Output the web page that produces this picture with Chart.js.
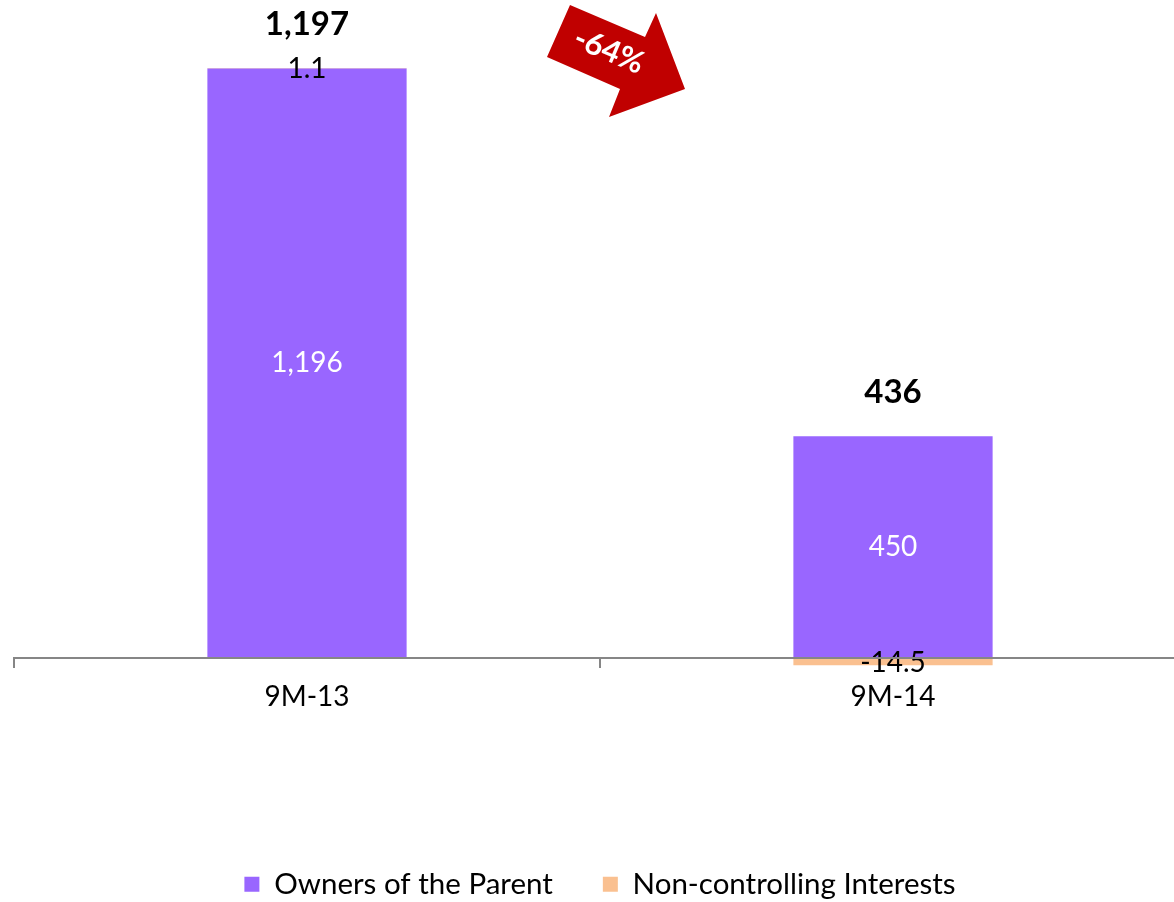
<!DOCTYPE html>
<html lang="en">
<head>
  <meta charset="UTF-8">
  <title>Net income 9M-13 vs 9M-14</title>
  <script src="https://cdn.jsdelivr.net/npm/chart.js"></script>
  <style>
    html, body { margin: 0; padding: 0; background: #fff; overflow: hidden; }
    .wrap { width: 1174px; height: 902px; overflow: hidden; position: relative; }
    .wrap canvas { position: absolute; left: 0; top: 0; }
  </style>
</head>
<body>
<div class="wrap"><canvas id="chart" width="1191" height="909"></canvas></div>

<script>
  const categories = ['9M-13', '9M-14'];
  const ownersOfParent = [1196, 450];
  const nonControlling = [1.1, -14.5];
  const changeLabel = '-64%';

  const FONT = 'Lato, "Open Sans", sans-serif';
  const totals = categories.map((c, i) => ownersOfParent[i] + nonControlling[i]);

  // labels, axis line, category names and the red arrow
  const overlay = {
    id: 'overlay',
    afterDatasetsDraw(chart) {
      const ctx = chart.ctx;
      const x = chart.scales.x, y = chart.scales.y;
      const zero = y.getPixelForValue(0);
      const owners = chart.getDatasetMeta(0).data;
      const nci = chart.getDatasetMeta(1).data;

      ctx.save();
      ctx.textAlign = 'center';
      ctx.textBaseline = 'middle';

      categories.forEach((cat, i) => {
        const a = owners[i], b = nci[i];
        ctx.font = '28px ' + FONT;
        ctx.fillStyle = '#fff';
        ctx.fillText(ownersOfParent[i].toLocaleString('en-US'), a.x, (a.y + a.base) / 2);
        ctx.fillStyle = '#000';
        ctx.fillText(nonControlling[i].toFixed(1), b.x, (b.y + b.base) / 2 + 1);

        const top = Math.min(a.y, a.base, b.y, b.base);
        ctx.font = 'bold 33px ' + FONT;
        ctx.fillText(Math.round(totals[i]).toLocaleString('en-US'), a.x, top - 44);

        ctx.font = '28px ' + FONT;
        ctx.fillText(cat, x.getPixelForValue(i), zero + 39);
      });

      // axis line with tick marks between categories
      ctx.strokeStyle = '#868686';
      ctx.lineWidth = 2;
      ctx.beginPath();
      ctx.moveTo(x.left, zero);
      ctx.lineTo(x.right, zero);
      for (let i = 0; i <= categories.length; i++) {
        const px = x.left + (x.right - x.left) * i / categories.length;
        ctx.moveTo(px, zero - 1);
        ctx.lineTo(px, zero + 10);
      }
      ctx.stroke();

      // arrow
      ctx.fillStyle = '#C00000';
      ctx.beginPath();
      ctx.moveTo(570, 5);
      ctx.lineTo(645, 37);
      ctx.lineTo(656, 13);
      ctx.lineTo(685, 89);
      ctx.lineTo(609, 117);
      ctx.lineTo(620, 89);
      ctx.lineTo(547, 57);
      ctx.closePath();
      ctx.fill();

      ctx.translate(609, 51);
      ctx.rotate(23 * Math.PI / 180);
      ctx.fillStyle = '#fff';
      ctx.font = 'bold 31px ' + FONT;
      ctx.fillText(changeLabel, 0, 0);
      ctx.restore();
    }
  };

  const chart = new Chart(document.getElementById('chart'), {
    type: 'bar',
    data: {
      labels: categories,
      datasets: [
        {
          label: 'Owners of the Parent',
          data: ownersOfParent,
          backgroundColor: '#9966FF',
          borderWidth: 0
        },
        {
          label: 'Non-controlling Interests',
          data: nonControlling,
          backgroundColor: '#FAC090',
          borderWidth: 0
        }
      ]
    },
    options: {
      responsive: false,
      animation: false,
      layout: { padding: { left: 14, right: 5, top: 0, bottom: 0 } },
      datasets: { bar: { categoryPercentage: 0.34, barPercentage: 1 } },
      scales: {
        x: { display: false, stacked: true },
        y: { display: false, stacked: true, min: -400, max: 1400 }
      },
      plugins: {
        tooltip: { enabled: false },
        legend: {
          position: 'bottom',
          labels: {
            font: { family: FONT, size: 29.5 },
            color: '#000',
            boxWidth: 15,
            boxHeight: 15,
            padding: 50
          }
        }
      }
    },
    plugins: [overlay]
  });

  // fit the value range so the zero line and the tallest stack land where the original has them
  const zeroY = 658, topY = 68;
  const area = chart.chartArea;
  const tallest = Math.max(...categories.map((c, i) => ownersOfParent[i] + Math.max(nonControlling[i], 0)));
  const ppu = (zeroY - topY) / tallest;
  chart.options.scales.y.min = -(area.bottom - zeroY) / ppu;
  chart.options.scales.y.max = (zeroY - area.top) / ppu;
  chart.update('none');
</script>
</body>
</html>
